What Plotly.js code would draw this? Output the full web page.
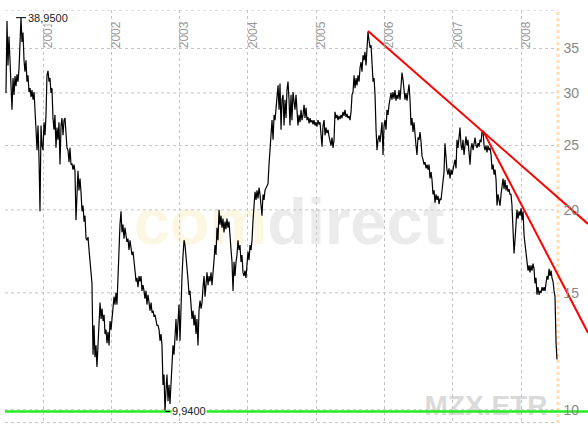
<!DOCTYPE html>
<html><head><meta charset="utf-8">
<script src="https://cdn.plot.ly/plotly-3.0.1.min.js"></script>
<style>html,body{margin:0;padding:0;background:#fff}#chart{width:588px;height:424px}</style>
</head><body><div id="chart"></div>
<script>
// Dates as decimal years, closing prices in EUR (MZX.ETR)
const years = [
2000.458,2000.473,2000.487,2000.502,
2000.517,2000.532,2000.546,2000.561,2000.576,2000.590,2000.605,2000.619,2000.634,2000.649,
2000.663,2000.678,2000.692,2000.707,2000.722,2000.736,2000.751,2000.765,2000.780,2000.795,
2000.810,2000.825,2000.839,2000.854,2000.869,2000.883,2000.898,2000.912,2000.927,2000.942,
2000.956,2000.971,2000.985,2001.000,2001.015,2001.029,2001.044,2001.058,2001.073,2001.088,
2001.102,2001.117,2001.131,2001.146,2001.161,2001.175,2001.190,2001.204,2001.219,2001.234,
2001.249,2001.264,2001.278,2001.293,2001.308,2001.322,2001.337,2001.351,2001.366,2001.381,
2001.395,2001.410,2001.424,2001.439,2001.454,2001.468,2001.483,2001.497,2001.512,2001.527,
2001.542,2001.557,2001.571,2001.586,2001.601,2001.615,2001.630,2001.644,2001.659,2001.674,
2001.688,2001.703,2001.717,2001.732,2001.747,2001.761,2001.776,2001.790,2001.805,2001.820,
2001.835,2001.850,2001.864,2001.879,2001.894,2001.908,2001.923,2001.937,2001.952,2001.967,
2001.981,2001.996,2002.010,2002.025,2002.040,2002.054,2002.069,2002.083,2002.098,2002.113,
2002.127,2002.142,2002.156,2002.171,2002.186,2002.200,2002.215,2002.229,2002.244,2002.259,
2002.274,2002.289,2002.303,2002.318,2002.333,2002.347,2002.362,2002.376,2002.391,2002.406,
2002.420,2002.435,2002.449,2002.464,2002.479,2002.493,2002.508,2002.522,2002.537,2002.552,
2002.567,2002.582,2002.596,2002.611,2002.626,2002.640,2002.655,2002.669,2002.684,2002.699,
2002.713,2002.728,2002.742,2002.757,2002.772,2002.786,2002.801,2002.815,2002.830,2002.845,
2002.859,2002.874,2002.888,2002.903,2002.918,2002.932,2002.947,2002.961,2002.976,2002.991,
2003.006,2003.021,2003.035,2003.050,2003.065,2003.079,2003.094,2003.108,2003.123,2003.138,
2003.152,2003.167,2003.181,2003.196,2003.211,2003.225,2003.240,2003.254,2003.269,2003.284,
2003.299,2003.314,2003.328,2003.343,2003.358,2003.372,2003.387,2003.401,2003.416,2003.431,
2003.445,2003.460,2003.474,2003.489,2003.504,2003.518,2003.533,2003.547,2003.562,2003.577,
2003.591,2003.606,2003.620,2003.635,2003.650,2003.664,2003.679,2003.693,2003.708,2003.723,
2003.738,2003.753,2003.767,2003.782,2003.797,2003.811,2003.826,2003.840,2003.855,2003.870,
2003.884,2003.899,2003.913,2003.928,2003.943,2003.957,2003.972,2003.986,2004.001,2004.016,
2004.031,2004.046,2004.060,2004.075,2004.090,2004.104,2004.119,2004.133,2004.148,2004.163,
2004.177,2004.192,2004.206,2004.221,2004.236,2004.250,2004.265,2004.279,2004.294,2004.309,
2004.324,2004.339,2004.353,2004.368,2004.383,2004.397,2004.412,2004.426,2004.441,2004.456,
2004.470,2004.485,2004.499,2004.514,2004.529,2004.543,2004.558,2004.572,2004.587,2004.602,
2004.616,2004.631,2004.645,2004.660,2004.675,2004.689,2004.704,2004.718,2004.733,2004.748,
2004.763,2004.778,2004.792,2004.807,2004.822,2004.836,2004.851,2004.865,2004.880,2004.895,
2004.909,2004.924,2004.938,2004.953,2004.968,2004.982,2004.997,2005.011,2005.026,2005.041,
2005.056,2005.071,2005.085,2005.100,2005.115,2005.129,2005.144,2005.158,2005.173,2005.188,
2005.202,2005.217,2005.231,2005.246,2005.261,2005.275,2005.290,2005.304,2005.319,2005.334,
2005.348,2005.363,2005.377,2005.392,2005.407,2005.421,2005.436,2005.450,2005.465,2005.480,
2005.495,2005.510,2005.524,2005.539,2005.554,2005.568,2005.583,2005.597,2005.612,2005.627,
2005.641,2005.656,2005.670,2005.685,2005.700,2005.714,2005.729,2005.743,2005.758,2005.773,
2005.788,2005.803,2005.817,2005.832,2005.847,2005.861,2005.876,2005.890,2005.905,2005.920,
2005.934,2005.949,2005.963,2005.978,2005.993,2006.007,2006.022,2006.036,2006.051,2006.066,
2006.080,2006.095,2006.109,2006.124,2006.139,2006.153,2006.168,2006.182,2006.197,2006.212,
2006.227,2006.242,2006.256,2006.271,2006.286,2006.300,2006.315,2006.329,2006.344,2006.359,
2006.373,2006.388,2006.402,2006.417,2006.432,2006.446,2006.461,2006.475,2006.490,2006.505,
2006.520,2006.535,2006.549,2006.564,2006.579,2006.593,2006.608,2006.622,2006.637,2006.652,
2006.666,2006.681,2006.695,2006.710,2006.725,2006.739,2006.754,2006.768,2006.783,2006.798,
2006.812,2006.827,2006.841,2006.856,2006.871,2006.885,2006.900,2006.914,2006.929,2006.944,
2006.959,2006.974,2006.988,2007.003,2007.018,2007.032,2007.047,2007.061,2007.076,2007.091,
2007.105,2007.120,2007.134,2007.149,2007.164,2007.178,2007.193,2007.207,2007.222,2007.237,
2007.252,2007.267,2007.281,2007.296,2007.311,2007.325,2007.340,2007.354,2007.369,2007.384,
2007.398,2007.413,2007.427,2007.442,2007.457,2007.471,2007.486,2007.500,2007.515,2007.530,
2007.545,2007.560,2007.574,2007.589,2007.604,2007.618,2007.633,2007.647,2007.662,2007.677,
2007.691,2007.706,2007.720,2007.735,2007.750,2007.764,2007.779,2007.793,2007.808,2007.823,
2007.837,2007.852,2007.866,2007.881,2007.896,2007.910,2007.925,2007.939,2007.954,2007.969,
2007.984,2007.999,2008.013,2008.028,2008.043,2008.057,2008.072,2008.086,2008.101,2008.116,
2008.130,2008.145,2008.159,2008.174,2008.189,2008.203,2008.218,2008.232,2008.247,2008.262,
2008.277,2008.292,2008.306,2008.321,2008.336,2008.350,2008.365,2008.379,2008.394,2008.409,
2008.423,2008.438,2008.452,2008.467,2008.482,2008.496,2008.511,2008.525
];
const prices = [
30.0,38.5,33.0,36.5,
33.5,30.3,28.3,31.6,29.8,31.8,30.7,32.0,31.2,32.7,
35.4,38.95,35.8,37.0,33.6,32.3,33.6,31.2,31.9,30.1,
30.5,29.6,30.3,29.3,30.1,27.5,26.4,24.6,26.8,23.8,
19.9,26.8,25.0,24.6,27.1,25.9,27.8,31.9,32.4,31.2,
31.6,30.0,30.5,27.5,26.4,27.8,24.8,26.6,25.5,27.1,
23.4,26.8,27.5,25.9,27.3,27.5,25.5,24.8,24.6,23.6,
24.8,23.4,23.5,23.0,23.4,22.9,19.3,21.8,22.9,21.4,
22.3,21.2,19.9,20.3,19.2,19.6,18.1,18.0,18.2,17.4,
16.7,15.9,15.5,12.1,13.4,12.0,12.5,11.6,12.7,14.1,
14.5,13.7,14.2,13.6,13.9,13.0,13.2,12.6,13.1,12.5,
13.6,13.2,13.7,14.1,14.8,14.4,15.0,14.4,16.2,17.1,
19.0,19.9,18.5,19.0,18.1,18.8,18.3,17.9,18.1,17.4,
18.0,17.4,17.1,17.3,16.5,16.2,15.6,15.8,15.3,15.9,
15.6,15.9,15.1,15.4,15.1,14.7,15.1,14.4,14.9,14.6,
14.1,14.5,14.0,14.1,13.8,13.9,13.6,13.4,13.4,13.2,
12.7,13.0,12.5,10.9,11.3,9.94,10.7,11.3,10.3,10.9,
10.2,11.1,11.8,12.5,12.1,12.8,13.7,12.7,14.0,14.4,
12.7,14.6,15.9,17.1,18.0,17.7,17.1,16.2,15.7,14.9,
15.1,14.4,13.7,14.1,13.4,13.9,13.0,13.7,12.5,14.1,
14.6,14.2,14.5,15.3,15.9,14.8,15.7,16.1,15.4,15.9,
15.6,16.1,15.4,15.9,16.8,17.7,17.1,18.8,18.0,20.0,
19.0,19.6,18.8,19.4,18.5,19.2,18.7,19.4,18.8,19.2,
18.5,17.4,16.7,15.1,16.7,15.9,16.7,17.1,18.0,17.4,
17.7,16.7,17.1,16.1,15.9,16.2,15.8,16.5,17.3,16.8,
17.7,17.4,18.0,19.3,20.7,21.3,20.7,21.4,20.8,21.6,
21.1,20.3,19.6,21.1,20.7,21.4,21.6,21.8,21.9,23.4,
25.0,25.9,27.3,25.5,27.8,27.3,28.5,29.8,30.8,28.3,
31.0,26.4,29.3,29.8,26.8,29.3,27.5,30.3,31.2,29.3,
26.8,29.8,27.3,30.1,29.3,28.3,29.8,28.1,26.8,27.8,
27.1,28.3,27.3,27.8,28.8,27.5,28.5,27.3,27.6,27.0,
27.5,27.1,27.3,26.9,27.3,26.8,27.1,26.7,27.3,26.9,
27.1,25.9,24.9,26.8,27.3,25.9,26.6,26.1,26.4,25.8,
25.5,25.0,25.7,24.8,25.5,28.1,27.5,27.8,27.3,27.7,
27.4,27.8,27.5,28.1,27.7,28.3,27.6,27.9,27.5,27.7,
27.3,28.1,29.8,30.1,31.9,30.5,31.6,30.8,31.9,31.2,
32.7,33.4,32.3,34.2,33.6,34.6,33.0,35.8,37.1,36.0,
35.1,35.4,33.6,31.2,31.6,29.8,26.4,24.6,25.5,25.9,
25.3,26.6,27.1,24.2,26.8,27.3,26.4,28.3,27.8,28.8,
29.3,30.0,29.3,30.1,29.4,30.3,29.2,29.8,29.4,30.3,
29.3,30.8,32.2,31.4,29.8,29.3,30.0,29.2,30.1,30.9,
29.3,26.8,27.5,26.2,27.1,25.7,25.0,24.2,25.7,25.5,
26.2,25.3,24.1,23.8,23.4,23.6,23.1,23.4,23.0,23.4,
22.3,22.8,22.2,21.1,21.4,20.5,21.1,20.7,21.0,20.4,
20.8,20.7,21.4,22.3,22.8,25.2,23.8,23.0,22.6,23.1,
22.3,23.0,22.6,23.1,23.4,23.8,23.1,25.5,24.8,25.8,
26.6,25.0,24.6,25.5,24.2,25.0,25.8,25.0,25.5,24.4,
23.4,24.8,25.2,24.6,25.5,25.7,25.0,24.8,25.2,24.9,
25.5,25.3,26.2,26.3,25.0,24.6,25.0,24.4,25.0,24.6,
24.8,24.2,23.0,23.4,22.6,23.0,22.2,20.3,21.1,20.6,
20.3,21.1,22.0,22.3,21.5,22.2,21.4,21.8,21.3,21.5,
21.1,21.1,20.3,19.0,17.2,18.0,19.6,20.0,19.4,19.9,
19.6,20.1,19.3,19.9,18.3,17.7,17.3,16.8,16.2,16.5,
16.1,16.5,16.2,16.6,16.3,15.5,15.8,14.9,15.3,14.9,
15.1,15.0,15.3,15.1,15.3,15.1,15.4,15.9,15.7,16.3,
15.9,16.2,15.8,15.6,15.1,14.8,12.6,11.9
];
const yearTicks  = [2001, 2002, 2003, 2004, 2005, 2006, 2007, 2008];
const yearLabels = ['2001','2002','2003','2004','2005','2006','2007','2008'];
const priceTicks  = [10, 15, 20, 25, 30, 35, 40];
const priceLabels = ['10','15','20','25','30','35','40'];
// trend lines (start / end points)
const trendAx = [2005.758, 2008.979], trendAy = [37.2, 19.05];
const trendBx = [2007.442, 2008.979], trendBy = [26.3, 13.06];
const supportX = [2000.444, 2008.979], supportY = [9.94, 9.94];
const lastDate = 2008.540;
const xRange = [2000.4436, 2008.979];
const yRange = [9.55, 40];

let iMax = 0, iMin = 0;
for (let i = 1; i < prices.length; i++) {
  if (prices[i] > prices[iMax]) iMax = i;
  if (prices[i] < prices[iMin]) iMin = i;
}
const fmt = v => v.toFixed(4).replace('.', ',');
const pxYear = (xRange[1] - xRange[0]) / 583; // one pixel in years

const FONT = 'Liberation Sans, Arial, sans-serif';
const traces = [
  {x: years, y: prices, type: 'scatter', mode: 'lines', line: {color: '#000', width: 1.2}, hoverinfo: 'skip'},
  {x: trendAx, y: trendAy, type: 'scatter', mode: 'lines', line: {color: '#ff0000', width: 2}, hoverinfo: 'skip'},
  {x: trendBx, y: trendBy, type: 'scatter', mode: 'lines', line: {color: '#ff0000', width: 2}, hoverinfo: 'skip'},
  {x: supportX, y: supportY, type: 'scatter', mode: 'lines', line: {color: '#22ee22', width: 2.5}, hoverinfo: 'skip'}
];

const shapes = [];
// watermarks
shapes.push({type: 'rect', xref: 'paper', yref: 'paper', x0: 0.4371, x1: 0.5371, y0: 0.4536, y1: 0.5536,
  line: {width: 0}, fillcolor: 'rgba(0,0,0,0)', layer: 'below',
  label: {text: '<b><span style="color:#fcf7e2">com</span>direct</b>', textposition: 'middle center',
          font: {family: FONT, size: 65, color: '#ebebeb'}}});
shapes.push({type: 'rect', xref: 'paper', yref: 'paper', x0: 0.775, x1: 0.875, y0: 0.0, y1: 0.1016,
  line: {width: 0}, fillcolor: 'rgba(0,0,0,0)', layer: 'below',
  label: {text: '<b>MZX.ETR</b>', textposition: 'middle center',
          font: {family: FONT, size: 28, color: '#dadada'}}});
// horizontal grid (stops at last date)
priceTicks.forEach(v => shapes.push({type: 'line', xref: 'x', yref: 'y', x0: xRange[0], x1: lastDate, y0: v, y1: v,
  line: {color: '#c4c4c4', width: 1, dash: 'dot'}, layer: 'below'}));
shapes.push({type: 'line', xref: 'x', yref: 'paper', x0: xRange[0], x1: lastDate, y0: 0.001, y1: 0.001,
  line: {color: '#c4c4c4', width: 1, dash: 'dot'}, layer: 'below'});
// last-date marker
shapes.push({type: 'line', xref: 'x', yref: 'paper', x0: lastDate, x1: lastDate, y0: 0, y1: 1,
  line: {color: '#ffdfae', width: 3, dash: 'dot'}, layer: 'below'});
// high / low markers
shapes.push({type: 'line', xref: 'x', yref: 'y', x0: years[iMax] - 5 * pxYear, x1: years[iMax] + 5 * pxYear,
  y0: prices[iMax], y1: prices[iMax], line: {color: '#000', width: 1}});
shapes.push({type: 'line', xref: 'x', yref: 'y', x0: years[iMin], x1: years[iMin] + 5 * pxYear,
  y0: prices[iMin], y1: prices[iMin], line: {color: '#000', width: 1}});

const annotations = [
  {x: years[iMax], y: Math.log10(prices[iMax]), xref: 'x', yref: 'y', text: fmt(prices[iMax]), showarrow: false,
   xanchor: 'left', yanchor: 'middle', xshift: 6, bgcolor: '#fff', borderpad: 0,
   font: {family: FONT, size: 11, color: '#222'}},
  {x: years[iMin], y: Math.log10(prices[iMin]), xref: 'x', yref: 'y', text: fmt(prices[iMin]), showarrow: false,
   xanchor: 'left', yanchor: 'middle', xshift: 6, bgcolor: '#fff', borderpad: 0,
   font: {family: FONT, size: 11, color: '#222'}}
];

const layout = {
  width: 588, height: 424,
  margin: {l: 5, r: 0, t: 10, b: 1, pad: 0},
  paper_bgcolor: '#fff', plot_bgcolor: '#fff',
  showlegend: false, hovermode: false,
  xaxis: {type: 'linear', range: xRange, side: 'top', tickvals: yearTicks, ticktext: yearLabels,
    tickangle: -90, ticklabelposition: 'inside', ticklabelshift: 5, ticklabelstandoff: 2,
    tickfont: {family: FONT, size: 12, color: '#999'}, ticks: '',
    showgrid: true, gridcolor: '#c4c4c4', griddash: 'dot', gridwidth: 1,
    zeroline: false, showline: false, fixedrange: true},
  yaxis: {type: 'log', range: [Math.log10(yRange[0]), Math.log10(yRange[1])], side: 'right',
    tickvals: priceTicks, ticktext: priceLabels, ticklabelposition: 'inside', ticklabeloverflow: 'allow',
    ticklabelstandoff: 6, tickfont: {family: FONT, size: 14, color: '#888'}, ticks: '',
    showgrid: false, zeroline: false, showline: false, fixedrange: true},
  shapes: shapes,
  annotations: annotations
};
Plotly.newPlot('chart', traces, layout, {displayModeBar: false, staticPlot: true});
</script>
</body></html>
